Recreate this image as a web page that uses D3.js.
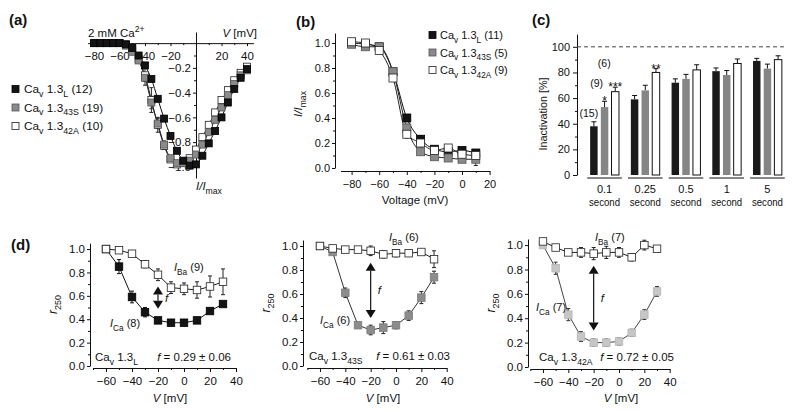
<!DOCTYPE html>
<html><head><meta charset="utf-8">
<script src="https://cdn.jsdelivr.net/npm/d3@7"></script>
<style>body{margin:0;background:#fff}svg{display:block}</style>
</head><body>
<svg id="c" width="800" height="411"></svg>
<script>
// ---------------- DATA ----------------
// (a) I-V relationships, normalized
const ivVolt = [-80,-75,-70,-65,-60,-55,-50,-45,-40,-35,-30,-25,-20,-15,-10,-5,0,5,10,15,20,25,30,35,40];
const ivL = [0,0,0,0,0,-0.01,-0.04,-0.10,-0.18,-0.29,-0.45,-0.61,-0.75,-0.87,-0.95,-0.99,-0.98,-0.91,-0.81,-0.71,-0.60,-0.48,-0.37,-0.28,-0.21];
const ivS = [0,0,0,0,0,-0.02,-0.07,-0.14,-0.28,-0.48,-0.65,-0.82,-0.93,-0.97,-0.97,-0.95,-0.90,-0.82,-0.72,-0.62,-0.52,-0.42,-0.33,-0.26,-0.22];
const ivA = [0,0,0,0,0,-0.01,-0.05,-0.13,-0.26,-0.46,-0.66,-0.83,-0.94,-0.98,-0.97,-0.93,-0.86,-0.76,-0.66,-0.56,-0.46,-0.38,-0.30,-0.24,-0.19];
const ivErrL = [0,0,0,0,0,0.01,0.01,0.02,0.02,0.02,0.02,0.02,0.02,0.02,0.01,0.01,0.01,0.01,0.02,0.02,0.02,0.02,0.02,0.02,0.02];
const ivErrS = [0,0,0,0,0,0.01,0.01,0.02,0.03,0.05,0.04,0.03,0.02,0.01,0.01,0.01,0.01,0.02,0.02,0.02,0.02,0.02,0.02,0.02,0.02];
const ivErrA = [0,0,0,0,0,0.01,0.02,0.03,0.08,0.10,0.06,0.03,0.02,0.01,0.01,0.01,0.02,0.02,0.02,0.02,0.02,0.02,0.02,0.02,0.02];
const ivN = {L: "(12)", S: "(19)", A: "(10)"};

// (b) steady-state inactivation
const ssVolt = [-80,-70,-60,-50,-40,-30,-20,-10,0,10];
const ssL = [1.00,0.99,0.97,0.77,0.40,0.23,0.15,0.13,0.14,0.12];
const ssS = [0.99,0.97,0.97,0.77,0.32,0.13,0.09,0.08,0.07,0.07];
const ssA = [1.01,1.00,0.94,0.72,0.27,0.20,0.14,0.16,0.11,0.10];
const ssErrL = [0.01,0.01,0.01,0.02,0.02,0.03,0.02,0.02,0.01,0.01];
const ssErrS = [0.01,0.01,0.01,0.02,0.03,0.02,0.02,0.02,0.02,0.05];
const ssErrA = [0.01,0.01,0.01,0.02,0.03,0.03,0.02,0.02,0.02,0.02];
const ssN = {L: "(11)", S: "(5)", A: "(9)"};

// (c) inactivation after prepulse durations
const durations = ["0.1","0.25","0.5","1","5"];
const durUnit = "second";
const inactL = [38,59,72,81,89];
const inactS = [53,66,75,78,83];
const inactA = [65,80,82,87,90];
const inactErrL = [3.5,3,3,2.5,2];
const inactErrS = [4.5,4,3.5,3.5,3.5];
const inactErrA = [3.5,3,4,3.5,3];
const nLabels = ["(15)","(9)","(6)"];          // n for group "0.1": L, S, A
const stars = [["0.1","S","*"],["0.1","A","***"],["0.25","A","**"]];

// (d) r250 vs voltage
const rVolt = [-60,-50,-40,-30,-20,-10,0,10,20,30];
const r1Ba = [1.00,0.99,0.96,0.87,0.78,0.67,0.66,0.65,0.68,0.72];
const r1BaErr = [0,0.01,0.01,0.03,0.05,0.05,0.05,0.07,0.09,0.11];
const r1Ca = [1.00,0.85,0.59,0.46,0.39,0.37,0.37,0.39,0.47,0.53];
const r1CaErr = [0,0.06,0.05,0.04,0.02,0.01,0.01,0.01,0.01,0.01];
const r2Ba = [1.00,0.98,0.97,0.97,0.96,0.93,0.94,0.94,0.95,0.89];
const r2BaErr = [0,0.01,0.01,0.01,0.04,0.03,0.03,0.02,0.02,0.07];
const r2Ca = [1.00,0.95,0.61,0.34,0.30,0.32,0.34,0.42,0.57,0.74];
const r2CaErr = [0,0.01,0.04,0.02,0.04,0.05,0.03,0.04,0.05,0.05];
const r3Ba = [1.03,0.98,0.94,0.94,0.93,0.94,0.94,0.90,1.00,0.97];
const r3BaErr = [0,0.01,0.01,0.04,0.05,0.05,0.04,0.03,0.04,0.01];
const r3Ca = [1.00,0.81,0.43,0.25,0.20,0.20,0.21,0.28,0.43,0.62];
const r3CaErr = [0,0.05,0.05,0.04,0.03,0.03,0.03,0.03,0.04,0.04];
const rN = [["(9)","(8)"],["(6)","(6)"],["(7)","(7)"]];
const fValues = ["0.29 \u00b1 0.06","0.61 \u00b1 0.03","0.72 \u00b1 0.05"];
const variants = ["L","43S","42A"];

// ---------------- HELPERS ----------------
const FONT = "'Liberation Sans', Arial, Helvetica, sans-serif";
const svg = d3.select('#c').attr('font-family', FONT);
const STY = {
  L: {fill:'#141414', stroke:'#000'},
  S: {fill:'#8a8a8a', stroke:'#555'},
  A: {fill:'#fff', stroke:'#222'}
};

function rich(g, x, y, parts, o = {}) {
  const size = o.size || 11.5;
  const t = g.append('text').attr('x', x).attr('y', y)
    .attr('font-size', size).attr('text-anchor', o.anchor || 'start')
    .attr('font-family', FONT).attr('fill', '#111');
  if (o.weight) t.attr('font-weight', o.weight);
  if (o.len) t.attr('textLength', o.len).attr('lengthAdjust', 'spacingAndGlyphs');
  if (o.rotate != null) t.attr('transform', `rotate(${o.rotate},${x},${y})`);
  let shift = 0;
  parts.forEach(p => {
    if (typeof p === 'string') p = {t: p};
    const target = p.sub ? size * 0.32 : (p.sup ? -size * 0.42 : 0);
    const ts = t.append('tspan').text(p.t);
    if (target !== shift) { ts.attr('dy', target - shift); shift = target; }
    if (p.sub || p.sup) ts.attr('font-size', size * 0.75);
    if (p.it) ts.attr('font-style', 'italic');
  });
  return t;
}
function cavParts(v, n) {
  const p = ["Ca", {t: "v", sub: true}, " 1.3", {t: v, sub: true}];
  if (n) p.push(" " + n);
  return p;
}
function styleAxis(g, size) {
  g.attr('font-family', FONT).attr('font-size', size || 11);
  g.selectAll('path.domain').attr('stroke', '#111').attr('stroke-width', 1);
  g.selectAll('.tick line').attr('stroke', '#111');
  g.selectAll('.tick text').attr('fill', '#111');
}
function minorAxis(g, axisFn, scale, vals, size) {
  g.call(axisFn(scale).tickValues(vals).tickSize(size).tickFormat('').tickSizeOuter(0));
  g.select('path.domain').remove();
  g.selectAll('.tick line').attr('stroke', '#111');
}
function errBars(g, xs, ys, xsV, vals, errs, color, cap) {
  const d = xsV.map((v, i) => ({v, y: vals[i], e: errs[i]})).filter(d => d.e > 0);
  const eg = g.append('g').attr('stroke', color).attr('stroke-width', 1);
  eg.selectAll(null).data(d).join('line')
    .attr('x1', d => xs(d.v)).attr('x2', d => xs(d.v))
    .attr('y1', d => ys(d.y - d.e)).attr('y2', d => ys(d.y + d.e));
  [-1, 1].forEach(s => {
    eg.selectAll(null).data(d).join('line')
      .attr('x1', d => xs(d.v) - cap / 2).attr('x2', d => xs(d.v) + cap / 2)
      .attr('y1', d => ys(d.y + s * d.e)).attr('y2', d => ys(d.y + s * d.e));
  });
}
function squares(g, xs, ys, xsV, vals, sty, size) {
  g.append('g').selectAll('rect').data(xsV.map((v, i) => ({v, y: vals[i]})))
    .join('rect')
    .attr('x', d => xs(d.v) - size / 2).attr('y', d => ys(d.y) - size / 2)
    .attr('width', size).attr('height', size)
    .attr('fill', sty.fill).attr('stroke', sty.stroke).attr('stroke-width', 0.8);
}
function curve(g, xs, ys, xsV, vals, color, type) {
  g.append('path').datum(xsV.map((v, i) => [v, vals[i]]))
    .attr('d', d3.line().x(d => xs(d[0])).y(d => ys(d[1])).curve(type || d3.curveMonotoneX))
    .attr('fill', 'none').attr('stroke', color).attr('stroke-width', 1);
}

// ---------------- PANEL (a) ----------------
{
  const g = svg.append('g');
  const k = 1.275, x0 = 196;
  const x = d3.scaleLinear().domain([-85, 45]).range([x0 - 85 * k, x0 + 45 * k]);
  const y = d3.scaleLinear().domain([-1.09, 0.09]).range([178, 32]);
  rich(g, 9, 25, ["(a)"], {size: 15, weight: 'bold'});

  const gx = g.append('g').attr('transform', `translate(0,${y(0)})`);
  gx.call(d3.axisBottom(x).tickValues([-80,-60,-40,-20,20,40]).tickSize(3).tickPadding(6).tickSizeOuter(0));
  styleAxis(gx, 11.5);
  minorAxis(g.append('g').attr('transform', `translate(0,${y(0)})`), d3.axisBottom, x, [-70,-50,-30,-10,10,30], 2);

  const gy = g.append('g').attr('transform', `translate(${x(0)},0)`);
  gy.call(d3.axisLeft(y).tickValues([-1,-0.8,-0.6,-0.4,-0.2]).tickFormat(d3.format('.1f')).tickSize(3).tickPadding(2).tickSizeOuter(0));
  styleAxis(gy, 11.5);
  minorAxis(g.append('g').attr('transform', `translate(${x(0)},0)`), d3.axisLeft, y, [-0.9,-0.7,-0.5,-0.3,-0.1], 2);

  rich(g, 88, 37, ["2 mM Ca", {t: "2+", sup: true}]);
  rich(g, 257, 37, [{t: "V", it: true}, " [mV]"], {anchor: 'end'});
  rich(g, 196, 190, [{t: "I", it: true}, {t: "/", it: true}, {t: "I", it: true}, {t: "max", sub: true}]);

  curve(g, x, y, ivVolt, ivA, '#222');
  curve(g, x, y, ivVolt, ivS, '#222');
  curve(g, x, y, ivVolt, ivL, '#111');
  errBars(g, x, y, ivVolt, ivA, ivErrA, '#222', 4);
  errBars(g, x, y, ivVolt, ivS, ivErrS, '#333', 4);
  errBars(g, x, y, ivVolt, ivL, ivErrL, '#111', 4);
  squares(g, x, y, ivVolt, ivA, STY.A, 7);
  squares(g, x, y, ivVolt, ivS, STY.S, 7);
  squares(g, x, y, ivVolt, ivL, STY.L, 7);

  const keys = ["L","S","A"], lab = ["L","43S","42A"];
  keys.forEach((kk, i) => {
    const yy = 89 + i * 18.5;
    g.append('rect').attr('x', 12).attr('y', yy - 3.5).attr('width', 7).attr('height', 7)
      .attr('fill', STY[kk].fill).attr('stroke', STY[kk].stroke).attr('stroke-width', 0.8);
    rich(g, 24, yy + 4, cavParts(lab[i], ivN[kk]), {size: 11.8});
  });
}

// ---------------- PANEL (b) ----------------
{
  const g = svg.append('g');
  const k = 1.38, x0 = 462;
  const x = d3.scaleLinear().domain([-88, 20]).range([x0 - 88 * k, x0 + 20 * k]);
  const y = d3.scaleLinear().domain([0, 1.08]).range([168, 33]);
  rich(g, 296, 27, ["(b)"], {size: 15, weight: 'bold'});

  const gx = g.append('g').attr('transform', 'translate(0,171)');
  gx.call(d3.axisBottom(x).tickValues([-80,-60,-40,-20,0,20]).tickSize(4).tickPadding(5).tickSizeOuter(0));
  styleAxis(gx, 11);
  minorAxis(g.append('g').attr('transform', 'translate(0,171)'), d3.axisBottom, x, [-70,-50,-30,-10,10], 2);

  const gy = g.append('g').attr('transform', 'translate(335,0)');
  gy.call(d3.axisLeft(y).tickValues([0,0.2,0.4,0.6,0.8,1.0]).tickFormat(d3.format('.1f')).tickSize(3).tickPadding(2).tickSizeOuter(0));
  styleAxis(gy, 11);
  minorAxis(g.append('g').attr('transform', 'translate(335,0)'), d3.axisLeft, y, [0.1,0.3,0.5,0.7,0.9], 2);

  rich(g, 415, 204, ["Voltage (mV)"], {anchor: 'middle'});
  rich(g, 302, 104, [{t: "I", it: true}, {t: "/", it: true}, {t: "I", it: true}, {t: "max", sub: true}], {anchor: 'middle', rotate: -90});

  curve(g, x, y, ssVolt, ssL, '#111');
  curve(g, x, y, ssVolt, ssS, '#222');
  curve(g, x, y, ssVolt, ssA, '#222');
  errBars(g, x, y, ssVolt, ssL, ssErrL, '#111', 4);
  errBars(g, x, y, ssVolt, ssS, ssErrS, '#222', 4);
  errBars(g, x, y, ssVolt, ssA, ssErrA, '#222', 4);
  squares(g, x, y, ssVolt, ssL, STY.L, 8);
  squares(g, x, y, ssVolt, ssS, STY.S, 8);
  squares(g, x, y, ssVolt, ssA, STY.A, 8);

  const keys = ["L","S","A"], lab = ["L","43S","42A"];
  keys.forEach((kk, i) => {
    const yy = 35 + i * 17.5;
    g.append('rect').attr('x', 429).attr('y', yy - 3.5).attr('width', 7).attr('height', 7)
      .attr('fill', STY[kk].fill).attr('stroke', STY[kk].stroke).attr('stroke-width', 0.8);
    rich(g, 440, yy + 4, cavParts(lab[i], ssN[kk]), {size: 11});
  });
}

// ---------------- PANEL (c) ----------------
{
  const g = svg.append('g');
  const y = d3.scaleLinear().domain([0, 110]).range([175, 34]);
  const xg = d3.scaleBand().domain(durations).range([584, 788]).paddingInner(0.15).paddingOuter(0.08);
  const xs = d3.scaleBand().domain(["L","S","A"]).range([0, xg.bandwidth()]).paddingInner(0.3).paddingOuter(0.27);
  rich(g, 532, 25, ["(c)"], {size: 15, weight: 'bold'});

  const gy = g.append('g').attr('transform', 'translate(577,0)');
  gy.call(d3.axisLeft(y).tickValues([0,20,40,60,80,100]).tickSize(4).tickPadding(3).tickSizeOuter(0));
  styleAxis(gy, 11);
  minorAxis(g.append('g').attr('transform', 'translate(577,0)'), d3.axisLeft, y, [10,30,50,70,90], 2);

  g.append('line').attr('x1', 577).attr('x2', 785).attr('y1', y(100)).attr('y2', y(100))
    .attr('stroke', '#444').attr('stroke-dasharray', '4,3');

  rich(g, 547, 114, ["Inactivation [%]"], {anchor: 'middle', rotate: -90, size: 10.8});

  const series = {L: [inactL, inactErrL], S: [inactS, inactErrS], A: [inactA, inactErrA]};
  const barCol = {L: '#1a1a1a', S: '#858585', A: '#fff'};
  Object.entries(series).forEach(([kk, [vals, errs]]) => {
    const d = durations.map((dur, i) => ({dur, v: vals[i], e: errs[i]}));
    const bx = d => xg(d.dur) + xs(kk);
    g.append('g').selectAll('line').data(d).join('line')
      .attr('x1', d => bx(d) + xs.bandwidth() / 2).attr('x2', d => bx(d) + xs.bandwidth() / 2)
      .attr('y1', d => y(d.v)).attr('y2', d => y(d.v + d.e)).attr('stroke', '#111');
    g.append('g').selectAll('line').data(d).join('line')
      .attr('x1', d => bx(d) + xs.bandwidth() / 2 - 2.5).attr('x2', d => bx(d) + xs.bandwidth() / 2 + 2.5)
      .attr('y1', d => y(d.v + d.e)).attr('y2', d => y(d.v + d.e)).attr('stroke', '#111');
    g.append('g').selectAll('rect').data(d).join('rect')
      .attr('x', bx).attr('y', d => y(d.v)).attr('width', xs.bandwidth())
      .attr('height', d => y(0) - y(d.v)).attr('fill', barCol[kk])
      .attr('stroke', kk === 'A' ? '#111' : 'none').attr('stroke-width', 1);
  });
  durations.forEach(dur => {
    g.append('line').attr('x1', xg(dur)).attr('x2', xg(dur) + xg.bandwidth()).attr('y1', 178).attr('y2', 178)
      .attr('stroke', '#111').attr('stroke-width', 1.2);
    const cx = xg(dur) + xg.bandwidth() / 2;
    rich(g, cx, 193, [dur], {anchor: 'middle', size: 11});
    rich(g, cx, 206, [durUnit], {anchor: 'middle', size: 11, len: 31});
  });
  const vAll = {L: [inactL, inactErrL], S: [inactS, inactErrS], A: [inactA, inactErrA]};
  const g0 = durations[0];
  const top = kk => y(vAll[kk][0][0] + vAll[kk][1][0]);
  const cxOf = (dur, kk) => xg(dur) + xs(kk) + xs.bandwidth() / 2;
  rich(g, cxOf(g0, 'L') - 5, top('L') - 5, [nLabels[0]], {anchor: 'middle', size: 10.5});
  rich(g, cxOf(g0, 'S') - 8, top('S') - 14, [nLabels[1]], {anchor: 'middle', size: 10.5});
  rich(g, cxOf(g0, 'A') - 11, top('A') - 20, [nLabels[2]], {anchor: 'middle', size: 10.5});
  stars.forEach(([dur, kk, s]) => {
    const i = durations.indexOf(dur);
    rich(g, cxOf(dur, kk), y(vAll[kk][0][i] + vAll[kk][1][i]) + 4, [s], {anchor: 'middle', size: 12});
  });
}

// ---------------- PANEL (d) ----------------
const dData = [
  {ba: r1Ba, baE: r1BaErr, ca: r1Ca, caE: r1CaErr},
  {ba: r2Ba, baE: r2BaErr, ca: r2Ca, caE: r2CaErr},
  {ba: r3Ba, baE: r3BaErr, ca: r3Ca, caE: r3CaErr}
];
const dLayout = [
  {xr: [93, 236], yr: [366, 243.2], ax: 90, caFill: '#141414', caStroke: '#000', caLine: '#111', caErr: '#111',
   baLab: [174, 271], caLab: [110, 327], vLab: 170, fy: 361, left: 95, right: 231},
  {xr: [307.3, 446.7], yr: [366, 240], ax: 303, caFill: '#8c8c8c', caStroke: '#7a7a7a', caLine: '#333', caErr: '#222',
   baLab: [389, 241], caLab: [320, 324], vLab: 383, fy: 360, left: 309, right: 450},
  {xr: [530.3, 669.7], yr: [367, 239], ax: 528, caFill: '#c6c6c6', caStroke: '#b5b5b5', caLine: '#444', caErr: '#333',
   baLab: [595, 241], caLab: [536, 311], vLab: 621, fy: 361, left: 539, right: 674}
];
rich(svg, 11, 250, ["(d)"], {size: 15, weight: 'bold'});
dData.forEach((dd, p) => {
  const L = dLayout[p];
  const g = svg.append('g');
  const x = d3.scaleLinear().domain([-70, 40]).range(L.xr);
  const y = d3.scaleLinear().domain([0, 1.05]).range(L.yr);
  const xAxY = L.yr[0] + 2;

  const gx = g.append('g').attr('transform', `translate(0,${xAxY})`);
  gx.call(d3.axisBottom(x).tickValues([-60,-40,-20,0,20,40]).tickSize(4).tickPadding(5).tickSizeOuter(0));
  styleAxis(gx, 11.5);
  minorAxis(g.append('g').attr('transform', `translate(0,${xAxY})`), d3.axisBottom, x, [-70,-50,-30,-10,10,30], 2);

  const gy = g.append('g').attr('transform', `translate(${L.ax},0)`);
  gy.call(d3.axisLeft(y).tickValues([0,0.2,0.4,0.6,0.8,1.0]).tickFormat(d3.format('.1f')).tickSize(3).tickPadding(2).tickSizeOuter(0));
  styleAxis(gy, 11.5);
  minorAxis(g.append('g').attr('transform', `translate(${L.ax},0)`), d3.axisLeft, y, [0.1,0.3,0.5,0.7,0.9], 2);

  rich(g, L.ax - 33, (L.yr[0] + L.yr[1]) / 2, [{t: "r", it: true}, {t: "250", sub: true}], {anchor: 'middle', rotate: -90, size: 12});
  rich(g, L.vLab, 402, [{t: "V", it: true}, " [mV]"], {anchor: 'middle', size: 11.5});

  curve(g, x, y, rVolt, dd.ca, L.caLine, d3.curveLinear);
  curve(g, x, y, rVolt, dd.ba, '#222', d3.curveLinear);
  errBars(g, x, y, rVolt, dd.ca, dd.caE, L.caErr, 4);
  errBars(g, x, y, rVolt, dd.ba, dd.baE, '#222', 4);
  squares(g, x, y, rVolt, dd.ca, {fill: L.caFill, stroke: L.caStroke}, 7.5);
  squares(g, x, y, rVolt, dd.ba, STY.A, 7.5);

  const i20 = rVolt.indexOf(-20);
  const ax = x(-20), yTop = y(dd.ba[i20] - 0.1), yBot = y(dd.ca[i20] + 0.1);
  const hw = 5, hh = 8;
  g.append('line').attr('x1', ax).attr('x2', ax).attr('y1', yTop + hh).attr('y2', yBot - hh).attr('stroke', '#111').attr('stroke-width', 1.2);
  g.append('path').attr('d', `M${ax},${yTop}L${ax - hw},${yTop + hh}L${ax + hw},${yTop + hh}Z`).attr('fill', '#111');
  g.append('path').attr('d', `M${ax},${yBot}L${ax - hw},${yBot - hh}L${ax + hw},${yBot - hh}Z`).attr('fill', '#111');
  rich(g, ax + 7, (yTop + yBot) / 2 + 4, [{t: "f", it: true}], {size: 11.5});

  rich(g, L.baLab[0], L.baLab[1], [{t: "I", it: true}, {t: "Ba", sub: true}, " " + rN[p][0]], {size: 11});
  rich(g, L.caLab[0], L.caLab[1], [{t: "I", it: true}, {t: "Ca", sub: true}, " " + rN[p][1]], {size: 11});
  rich(g, L.left, L.fy, cavParts(variants[p]), {size: 11.5});
  rich(g, L.right, L.fy, [{t: "f", it: true}, " = " + fValues[p]], {anchor: 'end', size: 11.5});
});
</script>
</body></html>
